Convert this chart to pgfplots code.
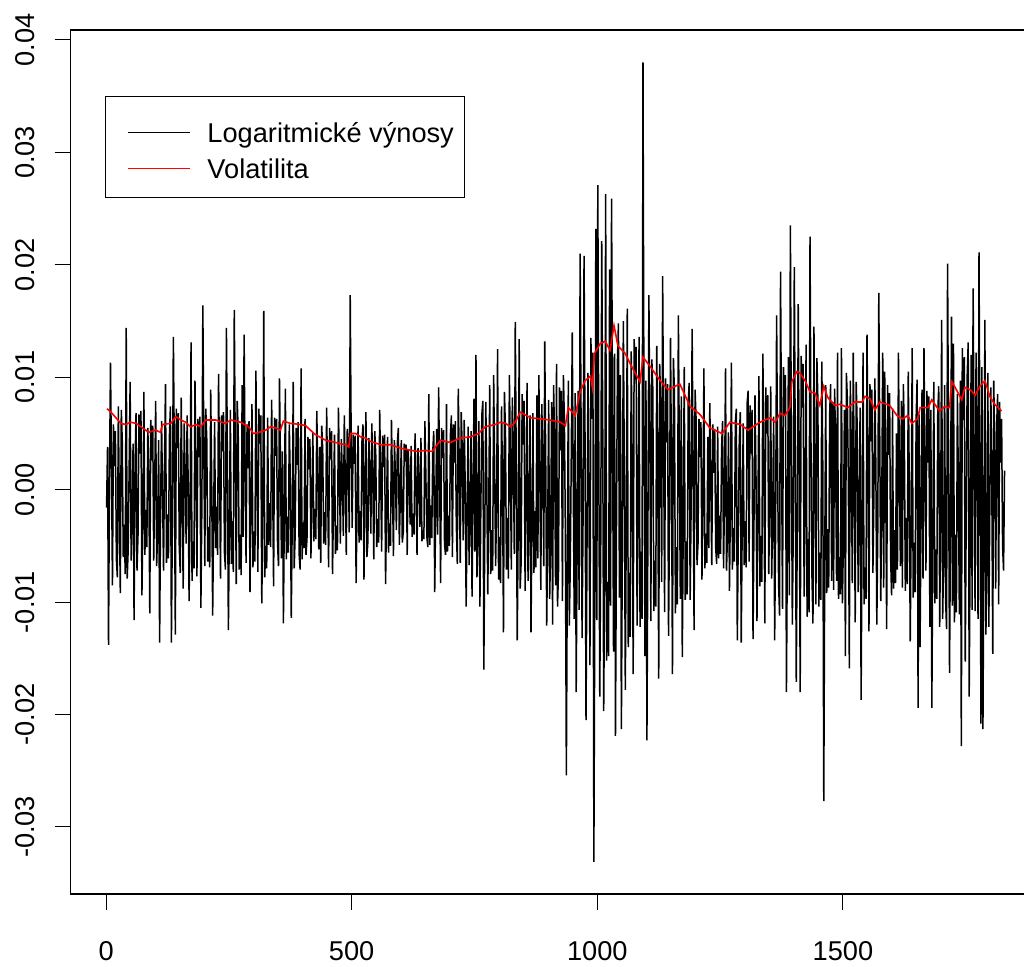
\documentclass[border=0pt]{standalone}
\usepackage{fontspec}
\setmainfont{Liberation Sans}
\usepackage{pgfplots}
\pgfplotsset{compat=1.18}
\usepackage{pgfplotstable}

% log returns, one value every 2 observations (x = 1, 3, 5, ...)
\pgfplotstableread[row sep=\\]{
y\\
-0.0016\\0.0038\\-0.0138\\0.0012\\0.0113\\0.0022\\-0.0085\\0.0058\\0.0021\\0.0052\\-0.0062\\-0.0078\\0.0074\\-0.0015\\-0.0092\\0.0071\\0.0043\\-0.0060\\-0.0031\\-0.0075\\0.0144\\-0.0079\\-0.0054\\0.0019\\0.0096\\-0.0063\\-0.0027\\0.0041\\-0.0116\\0.0023\\0.0068\\-0.0072\\-0.0041\\0.0067\\0.0032\\0.0070\\-0.0094\\-0.0024\\0.0087\\-0.0058\\-0.0018\\-0.0051\\0.0055\\0.0015\\-0.0110\\0.0062\\0.0026\\0.0057\\-0.0063\\0.0004\\
0.0079\\-0.0068\\-0.0035\\0.0044\\-0.0136\\-0.0018\\0.0061\\-0.0004\\-0.0072\\0.0026\\0.0094\\-0.0065\\-0.0022\\-0.0061\\0.0048\\0.0074\\-0.0136\\-0.0027\\0.0136\\0.0031\\-0.0129\\0.0072\\0.0037\\0.0068\\-0.0051\\-0.0074\\0.0082\\-0.0006\\-0.0088\\0.0059\\0.0014\\-0.0048\\0.0066\\0.0012\\-0.0099\\-0.0021\\0.0131\\-0.0081\\-0.0046\\-0.0070\\0.0097\\0.0018\\-0.0077\\0.0063\\0.0029\\0.0065\\-0.0105\\-0.0016\\0.0164\\0.0037\\
-0.0068\\0.0072\\0.0045\\-0.0064\\-0.0033\\-0.0069\\0.0089\\0.0011\\-0.0112\\-0.0023\\0.0060\\-0.0052\\-0.0015\\-0.0058\\0.0103\\0.0017\\-0.0079\\0.0066\\0.0034\\0.0069\\-0.0056\\-0.0071\\0.0144\\0.0024\\-0.0125\\-0.0031\\0.0071\\-0.0066\\-0.0028\\-0.0073\\0.0160\\0.0035\\-0.0084\\0.0079\\0.0052\\-0.0071\\-0.0040\\-0.0076\\0.0093\\-0.0042\\0.0138\\0.0021\\-0.0065\\0.0058\\0.0019\\0.0061\\-0.0091\\-0.0013\\0.0076\\-0.0069\\
-0.0037\\-0.0064\\0.0106\\0.0014\\-0.0073\\0.0072\\0.0041\\0.0066\\-0.0101\\-0.0022\\0.0159\\-0.0078\\-0.0050\\-0.0070\\0.0064\\-0.0049\\-0.0012\\-0.0051\\0.0080\\0.0013\\-0.0086\\0.0064\\0.0030\\0.0063\\-0.0047\\-0.0068\\0.0099\\0.0023\\-0.0061\\0.0034\\-0.0119\\-0.0016\\0.0090\\-0.0062\\-0.0024\\-0.0056\\0.0058\\0.0009\\-0.0114\\-0.0027\\0.0096\\-0.0070\\-0.0039\\0.0055\\0.0022\\0.0060\\-0.0057\\-0.0071\\0.0108\\-0.0062\\
-0.0029\\-0.0052\\0.0063\\-0.0058\\-0.0044\\0.0047\\0.0018\\0.0045\\-0.0061\\-0.0008\\0.0051\\-0.0046\\-0.0017\\-0.0044\\0.0070\\0.0012\\-0.0053\\0.0038\\-0.0065\\0.0057\\0.0036\\-0.0048\\-0.0020\\-0.0049\\0.0073\\0.0004\\-0.0069\\0.0055\\0.0027\\0.0052\\-0.0075\\-0.0011\\0.0049\\-0.0057\\-0.0032\\-0.0054\\0.0073\\0.0016\\-0.0048\\0.0045\\0.0011\\-0.0041\\0.0066\\0.0009\\-0.0058\\0.0054\\0.0039\\-0.0038\\0.0173\\0.0042\\
-0.0034\\0.0049\\0.0023\\0.0048\\-0.0083\\-0.0014\\0.0057\\-0.0047\\-0.0019\\-0.0045\\0.0044\\0.0058\\-0.0080\\0.0005\\0.0069\\-0.0060\\-0.0046\\0.0046\\0.0016\\-0.0039\\0.0059\\0.0011\\-0.0062\\0.0052\\0.0031\\-0.0051\\-0.0026\\-0.0047\\0.0071\\0.0014\\-0.0055\\0.0048\\0.0020\\0.0049\\-0.0084\\-0.0016\\0.0047\\-0.0056\\-0.0030\\-0.0050\\0.0062\\0.0003\\-0.0059\\0.0044\\0.0013\\-0.0036\\0.0042\\0.0055\\-0.0049\\-0.0007\\
0.0044\\-0.0047\\-0.0038\\0.0041\\0.0025\\0.0040\\-0.0058\\0.0036\\0.0012\\-0.0031\\0.0039\\-0.0042\\-0.0021\\-0.0040\\0.0050\\0.0008\\-0.0058\\0.0037\\0.0008\\-0.0033\\0.0046\\-0.0046\\-0.0036\\-0.0044\\0.0061\\0.0013\\-0.0042\\-0.0051\\0.0085\\-0.0049\\-0.0014\\-0.0043\\0.0033\\0.0052\\-0.0091\\-0.0019\\0.0054\\-0.0040\\0.0091\\0.0012\\-0.0083\\0.0055\\0.0028\\0.0053\\-0.0049\\-0.0058\\0.0076\\-0.0055\\-0.0023\\-0.0050\\
0.0049\\0.0066\\-0.0060\\0.0058\\0.0024\\0.0061\\-0.0031\\-0.0066\\0.0090\\0.0016\\-0.0065\\0.0069\\0.0037\\-0.0045\\0.0062\\0.0007\\-0.0104\\-0.0021\\0.0056\\-0.0067\\-0.0027\\0.0052\\-0.0095\\-0.0006\\0.0081\\-0.0055\\0.0120\\-0.0078\\-0.0044\\0.0061\\-0.0104\\-0.0012\\0.0067\\0.0079\\-0.0160\\-0.0034\\0.0078\\0.0009\\-0.0093\\-0.0018\\0.0093\\-0.0075\\-0.0036\\-0.0072\\0.0102\\0.0019\\-0.0068\\-0.0015\\0.0125\\-0.0080\\
-0.0042\\-0.0083\\0.0074\\0.0011\\-0.0127\\0.0087\\0.0053\\-0.0071\\-0.0025\\-0.0079\\0.0102\\0.0028\\-0.0071\\0.0082\\0.0038\\-0.0057\\0.0149\\0.0022\\-0.0134\\-0.0031\\0.0134\\-0.0088\\-0.0064\\0.0085\\0.0040\\0.0079\\-0.0090\\-0.0014\\0.0095\\-0.0081\\-0.0033\\0.0066\\-0.0127\\-0.0028\\0.0068\\-0.0074\\-0.0019\\-0.0069\\0.0084\\-0.0061\\0.0102\\0.0015\\-0.0089\\0.0076\\0.0026\\-0.0068\\0.0132\\0.0024\\-0.0121\\-0.0035\\
0.0080\\-0.0097\\-0.0052\\0.0078\\-0.0120\\0.0093\\0.0046\\-0.0085\\0.0112\\-0.0104\\-0.0073\\0.0091\\0.0035\\0.0088\\-0.0099\\0.0102\\0.0061\\-0.0038\\-0.0254\\-0.0065\\0.0097\\-0.0121\\-0.0066\\0.0030\\0.0140\\0.0008\\-0.0115\\0.0086\\-0.0180\\-0.0043\\0.0088\\-0.0107\\0.0210\\0.0057\\-0.0132\\-0.0025\\0.0208\\0.0046\\-0.0205\\-0.0052\\0.0104\\-0.0009\\-0.0156\\0.0135\\0.0063\\0.0122\\-0.0331\\-0.0088\\0.0232\\-0.0116\\
0.0271\\0.0034\\-0.0184\\-0.0049\\0.0221\\0.0063\\-0.0197\\-0.0071\\0.0263\\-0.0152\\-0.0082\\-0.0148\\0.0196\\-0.0103\\0.0259\\0.0058\\-0.0144\\0.0121\\-0.0219\\-0.0037\\0.0115\\0.0148\\-0.0096\\0.0102\\-0.0213\\-0.0044\\0.0150\\0.0019\\-0.0178\\-0.0026\\0.0161\\-0.0140\\-0.0074\\-0.0131\\0.0123\\0.0021\\-0.0164\\0.0134\\0.0098\\0.0127\\-0.0121\\-0.0030\\0.0136\\-0.0122\\-0.0055\\-0.0115\\0.0380\\0.0061\\-0.0148\\0.0097\\
-0.0223\\-0.0038\\0.0173\\0.0044\\-0.0117\\0.0116\\0.0090\\-0.0108\\-0.0063\\-0.0104\\0.0128\\0.0027\\-0.0168\\0.0112\\0.0075\\-0.0082\\0.0190\\0.0041\\-0.0109\\0.0099\\0.0042\\0.0094\\-0.0130\\-0.0024\\0.0135\\0.0018\\-0.0164\\0.0117\\0.0086\\-0.0110\\-0.0051\\-0.0102\\0.0155\\0.0031\\-0.0097\\0.0083\\-0.0149\\-0.0027\\0.0109\\-0.0098\\-0.0046\\-0.0093\\0.0077\\0.0095\\-0.0098\\-0.0015\\0.0143\\0.0022\\-0.0125\\0.0089\\
0.0064\\-0.0067\\-0.0048\\0.0063\\0.0029\\0.0060\\-0.0080\\-0.0011\\0.0108\\-0.0070\\-0.0039\\-0.0065\\0.0047\\-0.0052\\0.0077\\0.0006\\-0.0067\\0.0058\\0.0015\\0.0054\\-0.0052\\-0.0066\\0.0056\\-0.0061\\-0.0023\\-0.0057\\0.0038\\0.0061\\-0.0070\\-0.0004\\0.0108\\-0.0072\\-0.0040\\0.0051\\-0.0090\\-0.0012\\0.0113\\-0.0071\\-0.0034\\-0.0064\\0.0060\\0.0072\\-0.0134\\-0.0037\\0.0043\\0.0069\\-0.0136\\-0.0029\\0.0059\\-0.0067\\
-0.0028\\-0.0069\\0.0077\\0.0088\\-0.0064\\0.0075\\0.0032\\0.0071\\-0.0133\\-0.0025\\0.0084\\0.0014\\-0.0117\\-0.0019\\0.0101\\-0.0086\\-0.0041\\-0.0082\\0.0121\\0.0027\\-0.0119\\0.0091\\0.0050\\0.0084\\-0.0075\\-0.0009\\0.0092\\-0.0079\\-0.0020\\0.0065\\-0.0134\\-0.0035\\0.0155\\0.0024\\-0.0083\\-0.0112\\0.0194\\0.0038\\-0.0106\\0.0109\\0.0066\\0.0102\\-0.0180\\-0.0041\\0.0118\\-0.0094\\0.0235\\0.0046\\-0.0120\\-0.0031\\
0.0198\\0.0033\\-0.0171\\-0.0038\\0.0165\\0.0021\\-0.0180\\0.0119\\0.0073\\0.0112\\-0.0095\\-0.0022\\0.0129\\-0.0113\\-0.0044\\-0.0109\\0.0225\\0.0041\\-0.0078\\-0.0119\\0.0145\\0.0017\\-0.0102\\0.0117\\0.0080\\-0.0104\\-0.0056\\-0.0098\\0.0114\\0.0022\\-0.0277\\-0.0061\\0.0093\\-0.0092\\-0.0035\\-0.0087\\0.0068\\0.0094\\-0.0081\\0.0078\\-0.0089\\0.0090\\0.0044\\-0.0081\\0.0122\\-0.0097\\-0.0060\\-0.0093\\0.0126\\-0.0101\\
-0.0045\\0.0071\\-0.0148\\0.0104\\0.0081\\0.0014\\-0.0159\\0.0097\\0.0036\\-0.0083\\0.0122\\0.0011\\-0.0118\\0.0096\\0.0057\\-0.0091\\-0.0022\\0.0073\\-0.0187\\-0.0034\\0.0122\\-0.0102\\-0.0069\\-0.0097\\0.0138\\0.0029\\-0.0126\\0.0094\\0.0043\\0.0089\\-0.0074\\-0.0008\\0.0099\\0.0021\\-0.0120\\-0.0033\\0.0175\\0.0044\\-0.0099\\-0.0016\\0.0122\\-0.0087\\0.0105\\0.0018\\-0.0124\\0.0093\\0.0031\\0.0086\\-0.0058\\-0.0094\\
0.0072\\-0.0088\\-0.0036\\-0.0083\\0.0050\\-0.0071\\0.0122\\0.0016\\-0.0068\\0.0079\\-0.0087\\0.0094\\0.0049\\-0.0090\\-0.0025\\-0.0084\\0.0105\\0.0008\\-0.0135\\-0.0028\\0.0126\\-0.0096\\-0.0047\\-0.0091\\0.0063\\0.0098\\-0.0194\\0.0067\\-0.0140\\-0.0021\\0.0089\\-0.0079\\0.0126\\0.0013\\-0.0072\\0.0088\\0.0024\\0.0083\\-0.0122\\0.0071\\-0.0194\\-0.0040\\0.0096\\-0.0101\\-0.0053\\-0.0097\\0.0067\\0.0092\\-0.0122\\-0.0018\\
0.0151\\-0.0115\\-0.0062\\0.0093\\-0.0098\\-0.0124\\0.0201\\0.0036\\-0.0163\\-0.0029\\0.0154\\-0.0103\\0.0130\\-0.0118\\-0.0040\\-0.0109\\0.0085\\0.0008\\-0.0111\\0.0097\\-0.0228\\0.0126\\0.0062\\0.0118\\-0.0153\\-0.0021\\0.0102\\0.0131\\-0.0184\\-0.0046\\0.0120\\-0.0107\\0.0179\\0.0035\\-0.0108\\0.0122\\0.0054\\-0.0115\\0.0211\\0.0019\\-0.0208\\0.0109\\-0.0213\\-0.0044\\0.0151\\-0.0129\\-0.0070\\0.0104\\-0.0122\\-0.0015\\
0.0091\\0.0012\\-0.0146\\0.0097\\0.0038\\-0.0088\\0.0059\\0.0085\\-0.0102\\0.0078\\0.0024\\0.0063\\-0.0050\\-0.0072\\0.0017\\
}\returns

% volatility
\pgfplotstableread[row sep=\\]{
d v\\
2 0.0072\\ 10 0.0069\\ 20 0.0064\\ 30 0.0059\\ 40 0.0058\\ 50 0.0060\\ 61 0.0059\\ 71 0.0056\\ 87 0.0051\\ 101 0.0053\\
111 0.0051\\ 115 0.0058\\ 132 0.0059\\ 142 0.0065\\ 152 0.0062\\ 162 0.0060\\ 172 0.0056\\ 183 0.0058\\ 193 0.0056\\ 203 0.0062\\
223 0.0062\\ 243 0.0059\\ 254 0.0062\\ 274 0.0060\\ 290 0.0056\\ 300 0.0050\\ 311 0.0051\\ 325 0.0053\\ 335 0.0056\\ 345 0.0055\\
355 0.0053\\ 361 0.0061\\ 375 0.0059\\ 396 0.0058\\ 406 0.0057\\ 416 0.0053\\ 426 0.0049\\ 447 0.0044\\ 467 0.0042\\ 487 0.0040\\
494 0.0038\\ 498 0.0050\\ 508 0.0050\\ 518 0.0047\\ 528 0.0046\\ 538 0.0043\\ 559 0.0040\\ 579 0.0040\\ 599 0.0037\\ 620 0.0035\\
636 0.0034\\ 650 0.0035\\ 664 0.0034\\ 681 0.0044\\ 701 0.0042\\ 721 0.0046\\ 742 0.0047\\ 758 0.0050\\ 772 0.0056\\ 792 0.0058\\
803 0.0060\\ 813 0.0059\\ 823 0.0056\\ 833 0.0060\\ 843 0.0069\\ 864 0.0064\\ 884 0.0063\\ 904 0.0062\\ 925 0.0060\\ 935 0.0057\\
941 0.0073\\ 955 0.0066\\ 965 0.0087\\ 975 0.0097\\ 986 0.0101\\ 990 0.0091\\ 994 0.0121\\ 1006 0.0130\\ 1016 0.0132\\ 1026 0.0124\\
1034 0.0146\\ 1042 0.0128\\ 1057 0.0121\\ 1067 0.0112\\ 1087 0.0096\\ 1093 0.0118\\ 1107 0.0110\\ 1128 0.0097\\ 1144 0.0089\\ 1168 0.0094\\
1189 0.0074\\ 1209 0.0067\\ 1229 0.0055\\ 1254 0.0050\\ 1270 0.0060\\ 1291 0.0058\\ 1307 0.0053\\ 1331 0.0060\\ 1352 0.0064\\ 1362 0.0060\\
1372 0.0068\\ 1382 0.0066\\ 1392 0.0073\\ 1396 0.0096\\ 1406 0.0105\\ 1412 0.0104\\ 1423 0.0097\\ 1433 0.0087\\ 1443 0.0086\\ 1453 0.0075\\
1461 0.0092\\ 1469 0.0082\\ 1484 0.0075\\ 1494 0.0076\\ 1510 0.0073\\ 1524 0.0078\\ 1539 0.0078\\ 1545 0.0083\\ 1555 0.0081\\ 1565 0.0071\\
1575 0.0078\\ 1595 0.0075\\ 1610 0.0066\\ 1622 0.0063\\ 1632 0.0066\\ 1640 0.0059\\ 1652 0.0063\\ 1657 0.0073\\ 1673 0.0073\\ 1681 0.0080\\
1687 0.0076\\ 1697 0.0070\\ 1707 0.0074\\ 1717 0.0073\\ 1722 0.0096\\ 1732 0.0088\\ 1742 0.0080\\ 1748 0.0091\\ 1759 0.0089\\ 1769 0.0084\\
1779 0.0092\\ 1789 0.0097\\ 1799 0.0083\\ 1809 0.0076\\ 1823 0.0070\\
}\vol

\begin{document}
\begin{tikzpicture}[font=\fontsize{13.6pt}{16pt}\selectfont]
\begin{axis}[
  name=ax,
  scale only axis,
  width=485.2pt, height=432pt,
  xmin=-72.2, xmax=1903.2,
  ymin=-0.03596, ymax=0.04089,
  scaled x ticks=false, scaled y ticks=false,
  axis line style={line width=0.65pt},
  tick style={line width=0.5pt, black},
  tick align=outside,
  major tick length=8pt,
  tick pos=left,
  xtick={0,500,1000,1500},
  xticklabels={0,500,1000,1500},
  ytick={-0.03,-0.02,-0.01,0,0.01,0.02,0.03,0.04},
  yticklabels={-0.03,-0.02,-0.01,0.00,0.01,0.02,0.03,0.04},
  xticklabel style={anchor=north, inner sep=0pt},
  yticklabel style={rotate=90, anchor=base, inner sep=0pt},
  xticklabel shift=15.5pt,
  yticklabel shift=10pt,
  legend cell align=left,
  legend style={at={(0.03545,0.92361)}, anchor=north west, draw=black,
    line width=0.5pt, inner xsep=5.5pt, inner ysep=7.25pt, row sep=0pt,
    nodes={inner sep=0pt, text height=16pt, text depth=2pt}},
  legend image code/.code={\path[draw=none] (0pt,0pt) -- (45.5pt,0pt);
    \draw[#1] (6pt,-1.75pt) -- (37pt,-1.75pt);},
]
\addplot[black, line width=0.75pt] table[x expr=\coordindex*2+1, y=y] {\returns};
\addlegendentry{Logaritmické výnosy}
\addplot[red, line width=0.8pt] table[x=d, y=v] {\vol};
\addlegendentry{Volatilita}
\end{axis}
\pgfresetboundingbox
\path[use as bounding box] ([xshift=-35.3pt,yshift=-36.5pt]ax.south west) rectangle ([xshift=-8.5pt,yshift=15pt]ax.north east);
\end{tikzpicture}
\end{document}
